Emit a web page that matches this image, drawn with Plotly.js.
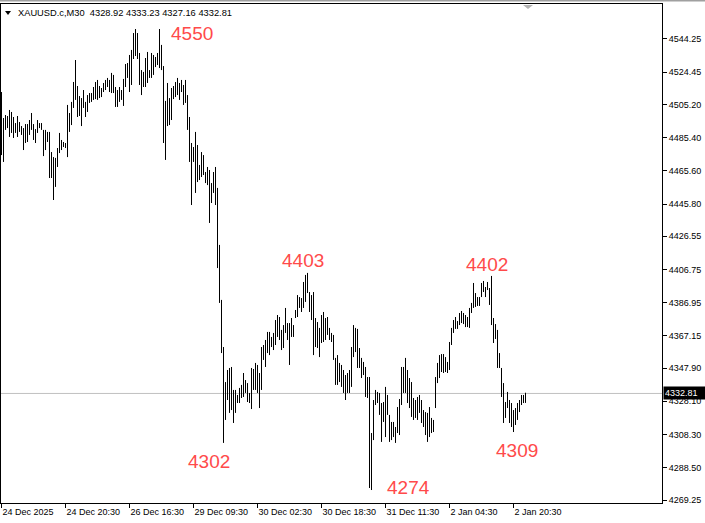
<!DOCTYPE html>
<html>
<head>
<meta charset="utf-8">
<script src="https://cdn.plot.ly/plotly-3.0.1.min.js"></script>
<style>
  html, body { margin: 0; padding: 0; background: #fff; }
  #chart { width: 705px; height: 523px; }
</style>
</head>
<body>
<div id="chart"></div>
<script>
// ---- Data (XAUUSD.c, M30 bars: high / low per bar) ----
const symbolTitle = "XAUUSD.c,M30";
const lastBarOHLC = [4328.92, 4333.23, 4327.16, 4332.81];
const currentPrice = 4332.81;

const highs = [
  4512.6, 4497.1, 4498.9, 4498.3, 4501.9, 4500.7, 4497.7, 4494.1, 4498.3, 4494.7,
  4492.3, 4491.1, 4493.5, 4493.5, 4495.9, 4500.1, 4493.5, 4490.5, 4495.9, 4494.1,
  4494.1, 4490.0, 4490.0, 4488.8, 4488.8, 4476.8, 4473.8, 4473.3, 4479.2, 4488.2,
  4484.0, 4482.8, 4482.2, 4504.9, 4500.1, 4506.7, 4518.6, 4531.7, 4516.2, 4510.2,
  4509.0, 4513.8, 4506.7, 4510.8, 4512.0, 4512.0, 4515.6, 4518.6, 4519.8, 4516.2,
  4515.0, 4518.0, 4519.8, 4521.0, 4519.8, 4524.0, 4522.8, 4515.6, 4513.8, 4515.6,
  4513.8, 4520.4, 4529.3, 4529.9, 4534.7, 4537.7, 4547.8, 4550.2, 4547.8, 4535.9,
  4525.7, 4524.6, 4532.9, 4536.5, 4525.7, 4535.9, 4534.7, 4533.5, 4535.9, 4550.2,
  4540.7, 4528.1, 4507.3, 4518.0, 4509.0, 4515.0, 4516.2, 4518.6, 4521.0, 4518.0,
  4519.8, 4516.8, 4519.8, 4510.8, 4497.7, 4482.2, 4479.8, 4488.8, 4481.0, 4469.1,
  4476.8, 4475.0, 4464.9, 4467.9, 4466.1, 4458.3, 4464.9, 4467.9, 4455.4, 4421.4,
  4388.6, 4360.5, 4339.6, 4346.8, 4348.0, 4348.6, 4334.9, 4334.9, 4331.9, 4336.1,
  4337.9, 4345.0, 4340.8, 4339.0, 4333.1, 4348.0, 4347.4, 4351.0, 4349.8, 4345.0,
  4360.5, 4361.7, 4364.7, 4369.5, 4369.5, 4366.5, 4368.9, 4376.6, 4379.6, 4378.4,
  4370.7, 4373.6, 4383.8, 4374.8, 4374.8, 4377.8, 4373.6, 4382.6, 4391.5, 4390.3,
  4389.7, 4399.3, 4403.5, 4404.7, 4393.3, 4391.5, 4393.3, 4377.8, 4375.4, 4371.9,
  4379.6, 4381.4, 4377.8, 4378.4, 4371.9, 4368.9, 4367.7, 4354.0, 4355.7, 4351.0,
  4349.8, 4346.8, 4343.8, 4345.0, 4346.8, 4360.5, 4373.6, 4371.9, 4371.3, 4359.9,
  4354.0, 4351.6, 4348.6, 4342.6, 4342.6, 4309.2, 4328.9, 4334.9, 4333.7, 4333.1,
  4327.1, 4327.7, 4336.7, 4331.9, 4320.0, 4315.8, 4315.8, 4312.8, 4324.7, 4329.5,
  4348.6, 4348.6, 4354.0, 4346.8, 4342.0, 4339.6, 4330.1, 4328.9, 4330.7, 4331.9,
  4328.9, 4322.9, 4321.7, 4321.2, 4324.7, 4318.2, 4317.0, 4342.6, 4351.0, 4355.7,
  4356.3, 4356.3, 4354.5, 4351.6, 4363.5, 4371.9, 4376.6, 4378.4, 4376.0, 4380.8,
  4382.0, 4380.8, 4379.6, 4378.4, 4383.8, 4386.8, 4398.7, 4392.7, 4390.3, 4390.3,
  4398.7, 4399.9, 4396.3, 4399.3, 4395.7, 4402.9, 4377.8, 4374.2, 4370.7, 4356.9,
  4348.0, 4339.0, 4327.7, 4333.7, 4328.9, 4327.1, 4322.9, 4324.1, 4327.1, 4328.9,
  4331.9, 4331.9, 4333.23
];

const lows = [
  4475.0, 4470.9, 4490.0, 4491.1, 4485.8, 4488.2, 4485.2, 4488.2, 4485.8, 4488.8,
  4487.0, 4478.0, 4482.2, 4482.8, 4487.0, 4490.0, 4484.0, 4482.2, 4488.2, 4491.1,
  4490.0, 4474.4, 4478.0, 4482.8, 4461.3, 4461.3, 4448.2, 4456.0, 4467.9, 4476.2,
  4478.0, 4479.8, 4479.2, 4473.8, 4488.8, 4492.9, 4503.1, 4507.9, 4497.7, 4498.3,
  4492.3, 4503.1, 4497.7, 4500.7, 4506.1, 4506.7, 4507.9, 4508.4, 4507.9, 4509.0,
  4509.6, 4512.6, 4513.8, 4515.6, 4512.6, 4512.0, 4512.0, 4503.7, 4503.7, 4506.7,
  4507.9, 4504.3, 4515.6, 4521.0, 4512.6, 4516.8, 4532.3, 4534.1, 4532.3, 4516.8,
  4510.8, 4515.6, 4515.6, 4518.0, 4521.0, 4521.0, 4522.8, 4527.5, 4528.7, 4526.9,
  4525.7, 4482.2, 4472.1, 4492.3, 4492.9, 4495.9, 4508.4, 4509.6, 4510.8, 4507.9,
  4512.6, 4504.9, 4506.1, 4490.0, 4470.9, 4445.2, 4470.9, 4452.4, 4458.9, 4460.1,
  4461.9, 4463.1, 4458.3, 4457.1, 4434.5, 4446.4, 4452.4, 4445.2, 4407.6, 4386.8,
  4356.9, 4303.3, 4317.0, 4328.9, 4321.2, 4322.9, 4315.2, 4321.2, 4327.1, 4327.1,
  4330.1, 4330.7, 4333.1, 4327.7, 4327.1, 4323.5, 4334.9, 4334.9, 4333.1, 4324.1,
  4334.9, 4352.8, 4348.6, 4356.9, 4355.7, 4360.5, 4358.7, 4361.7, 4366.5, 4364.7,
  4358.7, 4359.9, 4368.9, 4364.7, 4349.8, 4366.5, 4366.5, 4377.8, 4378.4, 4383.8,
  4381.4, 4383.8, 4387.4, 4392.7, 4381.4, 4376.6, 4355.7, 4360.5, 4359.9, 4354.5,
  4362.9, 4363.5, 4364.7, 4367.7, 4364.7, 4363.5, 4352.8, 4337.9, 4337.9, 4339.6,
  4336.7, 4333.1, 4328.9, 4333.1, 4333.1, 4336.7, 4354.5, 4357.5, 4348.0, 4348.0,
  4342.0, 4343.8, 4330.7, 4330.1, 4276.4, 4275.2, 4305.0, 4325.9, 4327.1, 4320.0,
  4303.9, 4315.8, 4306.8, 4320.0, 4303.9, 4305.0, 4306.8, 4303.3, 4309.2, 4308.0,
  4325.9, 4333.1, 4333.1, 4327.1, 4324.1, 4318.8, 4317.0, 4318.2, 4317.0, 4321.2,
  4315.2, 4312.8, 4308.0, 4303.9, 4306.8, 4309.2, 4309.8, 4324.1, 4339.0, 4342.0,
  4345.6, 4345.0, 4345.6, 4345.0, 4346.8, 4361.7, 4368.9, 4371.3, 4371.3, 4373.6,
  4374.8, 4374.2, 4372.4, 4372.4, 4371.9, 4380.8, 4383.8, 4384.4, 4385.0, 4385.0,
  4390.3, 4393.3, 4390.3, 4394.5, 4385.6, 4373.6, 4362.9, 4365.3, 4348.0, 4348.0,
  4330.7, 4315.2, 4318.2, 4324.1, 4315.2, 4312.8, 4309.8, 4314.0, 4317.0, 4321.7,
  4325.9, 4327.1, 4327.16
];

// x-axis time labels and the bar index they sit on
const timeLabels = ["24 Dec 2025", "24 Dec 20:30", "26 Dec 16:30", "29 Dec 09:30",
  "30 Dec 02:30", "30 Dec 18:30", "31 Dec 11:30", "2 Jan 04:30", "2 Jan 20:30"];
const timeLabelBars = [0, 32, 64, 96, 128, 160, 192, 224, 256];

// price scale tick labels
const priceTicks = [4269.25, 4288.50, 4308.30, 4328.10, 4347.90, 4367.15, 4386.95,
  4406.75, 4426.55, 4445.80, 4465.60, 4485.40, 4505.20, 4524.45, 4544.25];

// swing-point labels: text, bar index, price
const swingText  = ["4550", "4403", "4302", "4274", "4402", "4309"];
const swingBar   = [95.25, 150.5, 103.75, 203.4, 242.5, 257.75];
const swingPrice = [4547.8, 4412.4, 4292.5, 4276.7, 4409.7, 4298.8];

// ---- Build the bar segments (high-low lines) ----
const segX = [], segY = [];
for (let i = 0; i < highs.length; i++) {
  segX.push(i, i, null);
  segY.push(lows[i], highs[i], null);
}

const traces = [{
  type: 'scatter',
  mode: 'lines',
  x: segX,
  y: segY,
  line: { color: '#000000', width: 1 },
  hoverinfo: 'skip',
  connectgaps: false
}];

const fontFam = 'Liberation Sans, Arial, sans-serif';

const annotations = swingText.map((t, k) => ({
  text: t, x: swingBar[k], y: swingPrice[k], xref: 'x', yref: 'y',
  showarrow: false, xanchor: 'center', yanchor: 'middle',
  font: { family: fontFam, size: 19, color: '#ff4a4a' }
}));

// header line
annotations.push({
  text: symbolTitle + '\u00a0\u00a0' + lastBarOHLC.map(v => v.toFixed(2)).join(' '),
  xref: 'paper', yref: 'paper', x: 0.0227, y: 0.982,
  xanchor: 'left', yanchor: 'middle', showarrow: false,
  font: { family: fontFam, size: 9.3, color: '#000' }
});

// current price tag on the scale
annotations.push({
  text: currentPrice.toFixed(2),
  xref: 'paper', yref: 'y', x: 1, y: currentPrice, xshift: 1,
  xanchor: 'left', yanchor: 'middle', showarrow: false,
  bgcolor: '#000000', borderpad: 1, width: 40, align: 'left',
  font: { family: fontFam, size: 9, color: '#ffffff' }
});

const shapes = [
  // current price line
  { type: 'line', xref: 'paper', yref: 'y', x0: 0, x1: 1, y0: currentPrice, y1: currentPrice,
    line: { color: '#c0c0c0', width: 1 }, layer: 'below' },
  // header dropdown triangle
  { type: 'path', xref: 'paper', yref: 'paper',
    path: 'M 0.00605 0.986 L 0.01513 0.986 L 0.01059 0.978 Z',
    fillcolor: '#000', line: { width: 0 } },
  // chart shift marker
  { type: 'path', xref: 'paper', yref: 'paper',
    path: 'M 0.7897 0.998 L 0.8048 0.998 L 0.7973 0.990 Z',
    fillcolor: '#b4b4b4', line: { width: 0 } },
  // window top edge
  { type: 'rect', xref: 'paper', yref: 'paper', x0: -0.01, x1: 1.07, y0: 1.005, y1: 1.009,
    fillcolor: '#a0a0a0', line: { width: 0 } }
];

const layout = {
  width: 705, height: 523,
  margin: { l: 1, r: 43, t: 4, b: 20, pad: 0 },
  paper_bgcolor: '#ffffff', plot_bgcolor: '#ffffff',
  showlegend: false,
  xaxis: {
    range: [-0.25, 330.25],
    tickvals: timeLabelBars, ticktext: timeLabels,
    ticks: 'outside', ticklen: 4, tickcolor: '#000', tickwidth: 1,
    ticklabelposition: 'outside right',
    showline: true, mirror: true, linecolor: '#000', linewidth: 1,
    showgrid: false, zeroline: false, fixedrange: true,
    tickfont: { family: fontFam, size: 9, color: '#000' }
  },
  yaxis: {
    side: 'right',
    range: [4267.46, 4565.11],
    tickvals: priceTicks, ticktext: priceTicks.map(v => v.toFixed(2)),
    ticks: 'outside', ticklen: 4, tickcolor: '#000', tickwidth: 1,
    showline: true, mirror: true, linecolor: '#000', linewidth: 1,
    showgrid: false, zeroline: false, fixedrange: true,
    tickfont: { family: fontFam, size: 9, color: '#000' }
  },
  annotations: annotations,
  shapes: shapes
};

Plotly.newPlot('chart', traces, layout, { staticPlot: true, displayModeBar: false });
</script>
</body>
</html>
